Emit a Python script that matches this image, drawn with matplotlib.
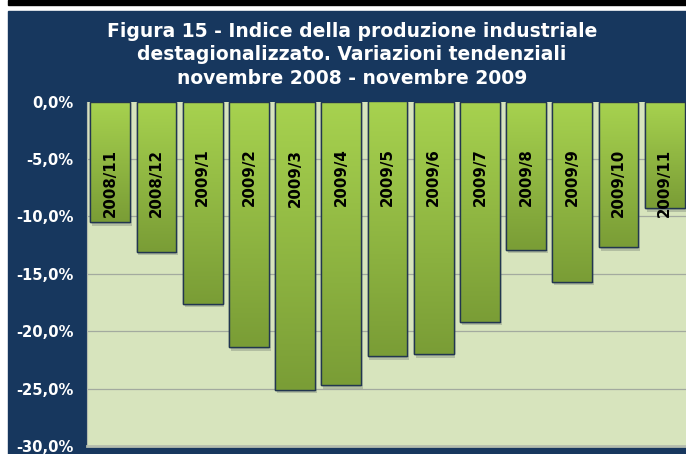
import numpy as np
import matplotlib.pyplot as plt
from matplotlib.colors import LinearSegmentedColormap

months = ['2008/11', '2008/12', '2009/1', '2009/2', '2009/3', '2009/4', '2009/5',
          '2009/6', '2009/7', '2009/8', '2009/9', '2009/10', '2009/11']
variazioni = [-10.5, -13.1, -17.6, -21.4, -25.1, -24.7, -22.2,
              -22.0, -19.2, -12.9, -15.7, -12.7, -9.3]
yticks = [0, -5, -10, -15, -20, -25, -30]
ytick_labels = ['0,0%', '-5,0%', '-10,0%', '-15,0%', '-20,0%', '-25,0%', '-30,0%']
title_lines = ['Figura 15 - Indice della produzione industriale',
               'destagionalizzato. Variazioni tendenziali',
               'novembre 2008 - novembre 2009']

NAVY = '#17375e'
PLOT_BG = '#d7e4bd'

fig = plt.figure(figsize=(6.86, 4.54), dpi=100)
fig.patch.set_facecolor('white')

# black band on top, navy frame below
fig.add_artist(plt.Rectangle((8 / 686, 1 - 4.5 / 454), 1, 4.5 / 454,
                             transform=fig.transFigure, color='black', zorder=0))
fig.add_artist(plt.Rectangle((8 / 686, 0), 1, 1 - 11 / 454,
                             transform=fig.transFigure, color=NAVY, zorder=0))

for i, line in enumerate(title_lines):
    fig.text(352 / 686, 1 - (36.7 + 23.6 * i) / 454, line,
             ha='center', va='baseline', color='white', fontsize=13.5,
             fontweight='bold')

ax = fig.add_axes([86.7 / 686, 8 / 454, 1 - 86.7 / 686, (446 - 101.5) / 454])
ax.set_facecolor(PLOT_BG)
ax.set_xlim(-0.51, 12.46)
ax.set_ylim(-30, 0)

for y in yticks[1:-1]:
    ax.axhline(y, color='#a3aa9f', lw=0.9, zorder=1)

x = np.arange(len(months))
bars = ax.bar(x, variazioni, width=0.86, color='#93bb44', edgecolor='#22364f',
              linewidth=1.0, zorder=3)

grad = LinearSegmentedColormap.from_list('g', ['#7a9d36', '#a7d24f'])
for b in bars:
    bx, by = b.get_x(), b.get_y()
    w, h = b.get_width(), b.get_height()
    # faint shadow below the bar
    ax.add_patch(plt.Rectangle((bx + 0.04, by + h - 0.3), w, 0.3,
                               color='#8e9a86', alpha=0.5, zorder=2, lw=0))
    img = ax.imshow(np.linspace(0, 1, 100).reshape(-1, 1), cmap=grad,
                    extent=(bx, bx + w, by + h, by), aspect='auto',
                    origin='lower', zorder=3.5)
    img.set_clip_path(b)
    ax.add_patch(plt.Rectangle((bx, by + h), w, -h, fill=False,
                               edgecolor='#22364f', lw=1.0, zorder=4))

for xi, lab in zip(x, months):
    ax.text(xi, -4.1, lab, rotation=90, ha='center', va='top',
            fontsize=10.8, fontweight='bold', color='black', zorder=5)

ax.set_xticks([])
ax.set_yticks(yticks)
ax.set_yticklabels(ytick_labels)
ax.tick_params(axis='y', length=0, pad=9.5, labelcolor='white', labelsize=10.6)
for t in ax.get_yticklabels():
    t.set_fontweight('bold')

for s in ['top', 'right']:
    ax.spines[s].set_visible(False)
ax.spines['left'].set_color('#b4bcae')
ax.spines['bottom'].set_color('#b4bcae')
ax.spines['bottom'].set_linewidth(2)

fig.savefig('out.png', dpi=100, facecolor=fig.get_facecolor())
